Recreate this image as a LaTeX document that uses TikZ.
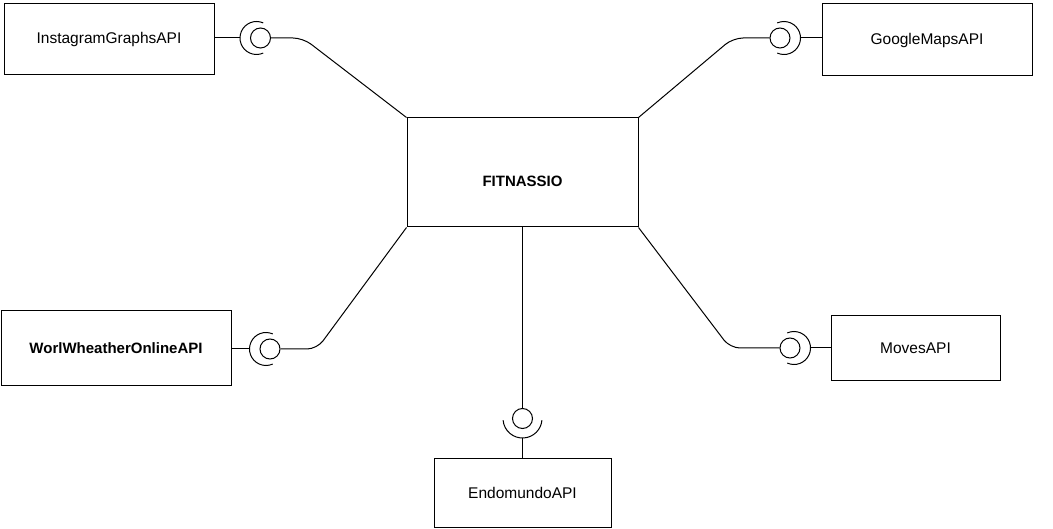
\documentclass[tikz,border=0pt]{standalone}
\usepackage{fontspec}
\setmainfont{Liberation Sans}
\usepackage{tikz}
\usetikzlibrary{positioning}

\begin{document}
\begin{tikzpicture}[x=1pt, y=1pt, line width=1pt,
  comp/.style={draw, rectangle, inner sep=0pt, font=\fontsize{15.5}{18}\selectfont},
  ball/.style={draw, circle, minimum size=20pt, inner sep=0pt},
  link/.style={rounded corners=10pt}]
\useasboundingbox (0,0) rectangle (1053,-529);
\node (FIT) [comp, minimum width=231, minimum height=109,
  label={[font=\fontsize{15}{18}\selectfont\bfseries, yshift=-9pt]center:FITNASSIO}] at (522.5,-172.5) {};
\node (IG) [comp, minimum width=210, minimum height=71] at (109,-39.5) {InstagramGraphsAPI};
\node (GM) [comp, minimum width=210, minimum height=72] at (927,-40) {GoogleMapsAPI};
\node (WW) [comp, minimum width=230, minimum height=75, font=\fontsize{15}{18}\selectfont\bfseries] at (116,-348.5) {WorlWheatherOnlineAPI};
\node (MV) [comp, minimum width=169, minimum height=65] at (915.5,-348.5) {MovesAPI};
\node (EM) [comp, minimum width=177, minimum height=69] at (522.5,-492.5) {EndomundoAPI};
% provided interfaces
\node (IGb) [ball] at (260.5,-38) {};
\node (GMb) [ball] at (780,-38) {};
\node (WWb) [ball] at (270,-349) {};
\node (MVb) [ball] at (790,-348) {};
\node (EMb) [ball] at (522.5,-418.5) {};
% required interfaces
\coordinate (IGs) at ([xshift=-20.5pt]IGb.center);
\coordinate (GMs) at ([xshift=20.5pt]GMb.center);
\coordinate (WWs) at ([xshift=-20.5pt]WWb.center);
\coordinate (MVs) at ([xshift=20.5pt]MVb.center);
\coordinate (EMs) at ([yshift=-19.5pt]EMb.center);
\draw ([xshift=-4pt]IGb.center) ++(66:16.5) arc[start angle=66, end angle=294, radius=16.5];
\draw ([xshift=-4pt]WWb.center) ++(66:16.5) arc[start angle=66, end angle=294, radius=16.5];
\draw ([xshift=4pt]GMb.center) ++(-114:16.5) arc[start angle=-114, end angle=114, radius=16.5];
\draw ([xshift=4pt]MVb.center) ++(-114:16.5) arc[start angle=-114, end angle=114, radius=16.5];
\draw (EMb.center) ++(185:19.5) arc[start angle=185, end angle=355, radius=19.5];
% connectors
\draw[link] (FIT.north west) -- (303,-38) -- (IGb.east);
\draw[link] (FIT.north east) -- (733,-38) -- (GMb.west);
\draw[link] (FIT.south west) -- (317,-349) -- (WWb.east);
\draw[link] (FIT.south east) -- (730,-348) -- (MVb.west);
\draw (FIT.south) -- (EMb.north);
\draw (IGs) -- (IG.east |- IGs);
\draw (GMs) -- (GM.west |- GMs);
\draw (WWs) -- (WW.east |- WWs);
\draw (MVs) -- (MV.west |- MVs);
\draw (EMs) -- (EM.north);
\end{tikzpicture}
\end{document}
